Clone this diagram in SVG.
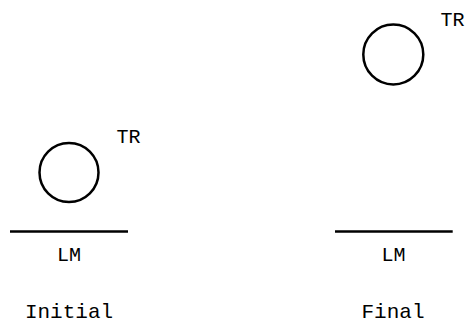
<svg xmlns="http://www.w3.org/2000/svg" width="467" height="323" viewBox="0 0 467 323">
<style>
.tr{fill:none;stroke:#000;stroke-width:2.5}
.lm{stroke:#000;stroke-width:2.5}
text{font-family:"Liberation Mono","Courier New",monospace;font-size:21px;fill:#000;text-anchor:middle}
.s{font-size:20px}
</style>
<rect width="467" height="323" fill="#fff"/>
<g id="initial-tr"><circle class="tr" cx="69" cy="172.5" r="29.5"/><text class="s" x="128.5" y="143">TR</text></g>
<g id="initial-lm"><line class="lm" x1="10" y1="231.5" x2="128" y2="231.5"/><text class="s" x="69" y="261">LM</text></g>
<g id="final-tr"><circle class="tr" cx="393.3" cy="54.5" r="30"/><text class="s" x="452.5" y="26">TR</text></g>
<g id="final-lm"><line class="lm" x1="335" y1="231.5" x2="452.7" y2="231.5"/><text class="s" x="393.5" y="261">LM</text></g>
<text x="69" y="318">Initial</text>
<text x="393" y="318">Final</text>
<g id="connectors"/>
</svg>
